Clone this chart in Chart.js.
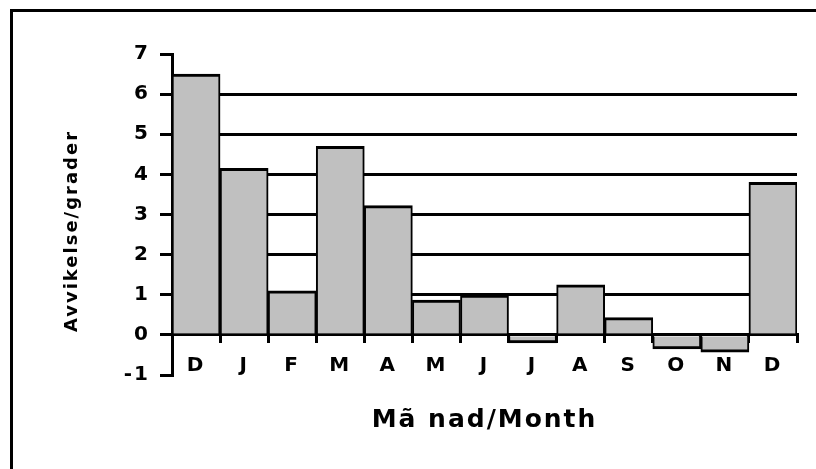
<!DOCTYPE html>
<html>
<head>
<meta charset="utf-8">
<script src="https://cdn.jsdelivr.net/npm/chart.js@4/dist/chart.umd.min.js"></script>
<style>
  body { margin: 0; background: #fff; }
  #wrap { position: relative; width: 816px; height: 469px; overflow: hidden; }
  #frame { position: absolute; left: 10px; top: 9px; width: 900px; height: 600px;
           border-left: 3px solid #000; border-top: 3px solid #000; pointer-events: none; }
</style>
</head>
<body>
<div id="wrap">
  <canvas id="myChart1" width="816" height="469"></canvas>
  <div id="frame"></div>
</div>
<script>
const ctx = document.getElementById('myChart1').getContext('2d');

const labels = ['D', 'J', 'F', 'M', 'A', 'M', 'J', 'J', 'A', 'S', 'O', 'N', 'D'];
const values = [6.5, 4.15, 1.1, 4.7, 3.22, 0.87, 0.99, -0.2, 1.25, 0.43, -0.35, -0.43, 3.8];
const yTicks = [-1, 0, 1, 2, 3, 4, 5, 6, 7];

const tickFont = { family: 'DejaVu Sans', size: 20, weight: 'bold' };

// wide, spaced-out lettering like the old pixel font
const spacing = {
  id: 'spacing',
  beforeUpdate(chart) { chart.ctx.letterSpacing = '2px'; },
  beforeLayout(chart) { chart.ctx.letterSpacing = '2px'; },
  beforeDraw(chart) { chart.ctx.letterSpacing = '2px'; },
};

const data = {
  labels,
  datasets: [
    {
      data: values,
      backgroundColor: '#c0c0c0',
      borderColor: '#000',
      borderWidth: { top: 3, bottom: 3, left: 2, right: 2 },
      barPercentage: 1,
      categoryPercentage: 1,
    },
  ],
};

const config = {
  type: 'bar',
  data: data,
  plugins: [spacing],
  options: {
    responsive: false,
    animation: false,
    layout: { padding: { left: 62, top: 54, right: 19, bottom: 94 } },
    plugins: { legend: { display: false }, tooltip: { enabled: false } },
    scales: {
      x: {
        position: { y: 0 },
        grid: { offset: true, drawOnChartArea: false, tickLength: 7, tickColor: '#000', lineWidth: 3 },
        border: { display: true, color: '#000', width: 3 },
        ticks: { color: '#000', font: tickFont, padding: 12, maxRotation: 0 },
        title: { display: true, text: 'Mã nad/Month', color: '#000', font: { family: 'DejaVu Sans', size: 25, weight: 'bold' }, padding: { top: 16 } },
      },
      y: {
        min: -1,
        max: 7,
        afterBuildTicks: function (scale) {
          scale.ticks = yTicks.map(v => ({ value: v }));
        },
        afterFit: function (scale) {
          scale.width = 110;
        },
        grid: {
          tickLength: 12,
          tickColor: '#000',
          lineWidth: 3,
          color: function (c) {
            return (c.tick && (c.tick.value === 7 || c.tick.value === -1)) ? 'rgba(0,0,0,0)' : '#000';
          },
        },
        border: { display: true, color: '#000', width: 3 },
        ticks: { color: '#000', font: tickFont, padding: 10 },
        title: { display: true, text: 'Avvikelse/grader    ', color: '#000', font: { family: 'DejaVu Sans', size: 18, weight: 'bold' }, padding: 0 },
      },
    },
  },
};

const myChart = new Chart(ctx, config);
</script>
</body>
</html>
